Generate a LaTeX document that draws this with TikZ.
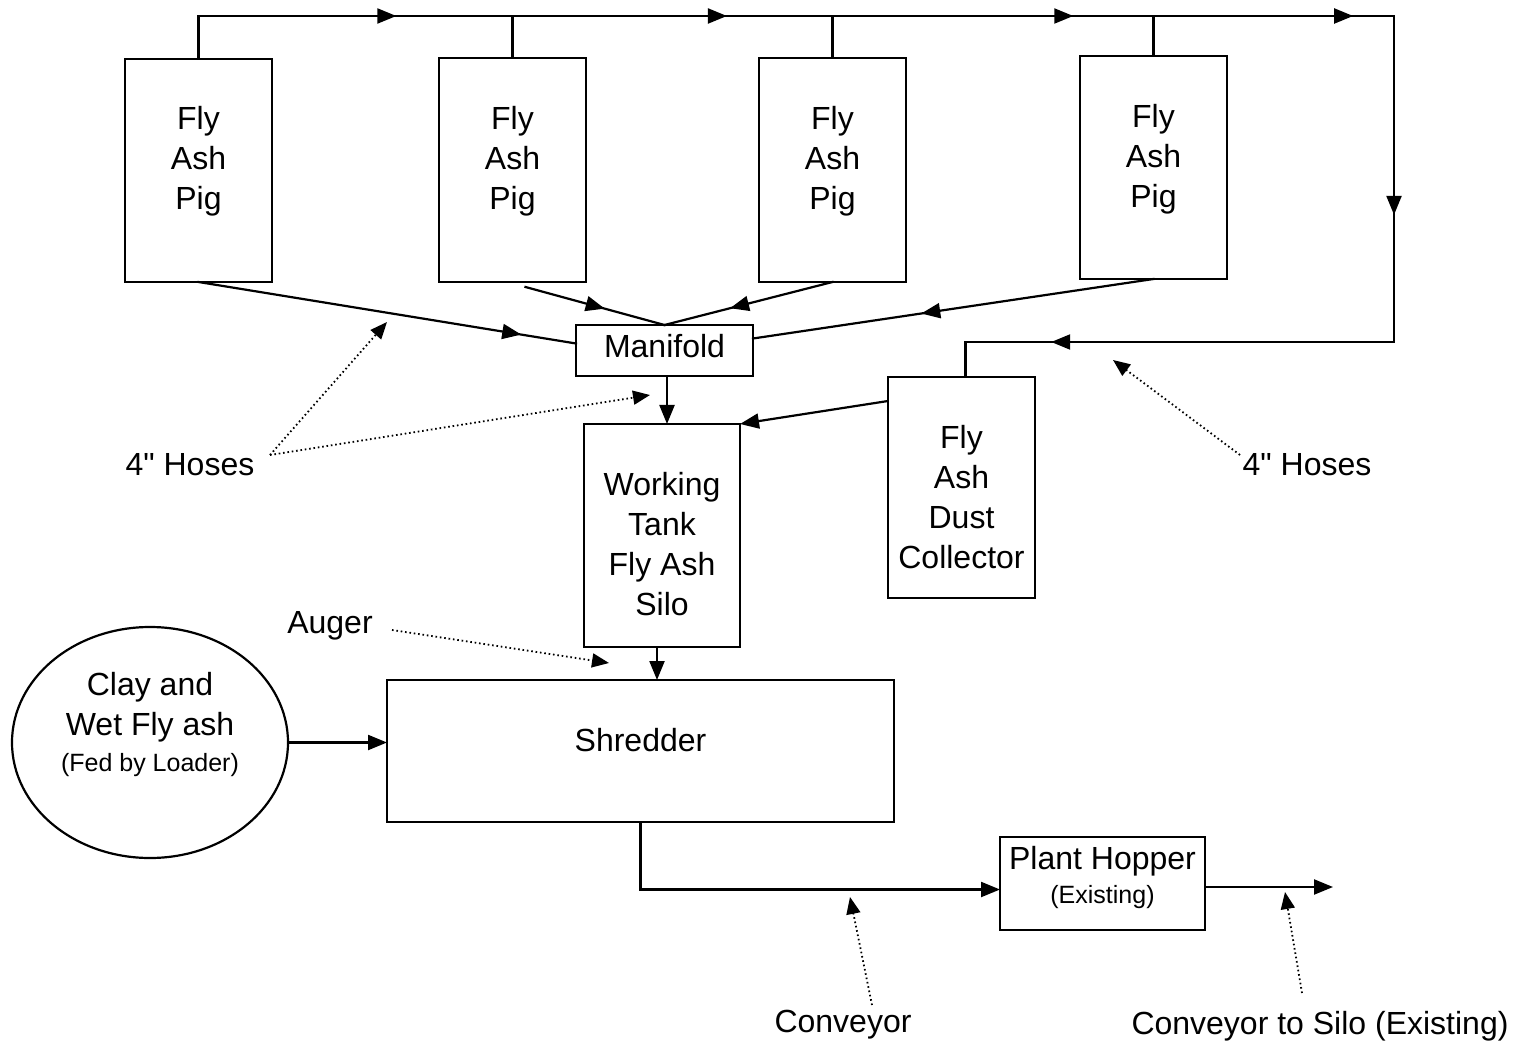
\documentclass[tikz,border=0pt]{standalone}
\usepackage{fontspec}
\setmainfont{Liberation Sans}
\newfontfamily\plainqfont{Liberation Sans}
\usetikzlibrary{shapes.geometric,arrows.meta,decorations.markings,calc}
\begin{document}
\begin{tikzpicture}[x=0.5pt,y=-0.5pt,
 lw/.style={line width=1.1pt},
 box/.style={draw,lw,inner sep=0pt,outer sep=0pt},
 txt/.style={font=\fontsize{16}{20}\selectfont,align=center,inner sep=0pt},
 conn/.style={lw,line cap=rect},
 arr/.style={lw,-{Triangle[length=9.5pt,width=7.5pt]}},
 midarrow/.style={lw,line cap=rect,postaction={decorate},decoration={markings,mark=at position #1 with {\arrow{Triangle[length=9.5pt,width=7.5pt]}}}},
 ann/.style={line width=0.9pt,dash pattern=on 0.8pt off 1.4pt,-{Triangle[length=8.5pt,width=7pt]}},
]
\fill[white] (0,0) rectangle (1513,1042);
\useasboundingbox (0,0) rectangle (1513,1042);

% boxes
\node[box,minimum width=73.5pt,minimum height=111.5pt,label={[txt,yshift=4.5pt]center:Fly\\Ash\\Pig}] (pig1) at (198.5,170.5) {};
\node[box,minimum width=73.5pt,minimum height=112pt,label={[txt,yshift=4.5pt]center:Fly\\Ash\\Pig}] (pig2) at (512.5,170) {};
\node[box,minimum width=73.5pt,minimum height=112pt,label={[txt,yshift=4.5pt]center:Fly\\Ash\\Pig}] (pig3) at (832.5,170) {};
\node[box,minimum width=73.5pt,minimum height=111.5pt,label={[txt,yshift=4pt]center:Fly\\Ash\\Pig}] (pig4) at (1153.5,167.5) {};
\node[box,minimum width=88.5pt,minimum height=25.5pt,label={[txt,yshift=2pt]center:Manifold}] (man) at (664.5,350.5) {};
\node[box,minimum width=78pt,minimum height=111.5pt,label={[txt,yshift=-4.25pt]center:Working\\Tank\\Fly Ash\\Silo}] (tank) at (662,535.5) {};
\node[box,minimum width=73.5pt,minimum height=110.5pt,label={[txt,yshift=-4.75pt]center:Fly\\Ash\\Dust\\Collector}] (dust) at (961.5,487.5) {};
\node[box,minimum width=253.5pt,minimum height=71pt,label={[txt,yshift=5.5pt]center:Shredder}] (shred) at (640.5,751) {};
\node[box,ellipse,minimum width=138pt,minimum height=115.5pt,label={[txt,yshift=9pt]center:Clay and\\Wet Fly ash\\[-2pt]{\fontsize{12.5}{15}\selectfont (Fed by Loader)}}] (clay) at (150,742.5) {};
\node[box,minimum width=102.5pt,minimum height=46.5pt,label={[txt,yshift=3pt]center:Plant Hopper\\[-3pt]{\fontsize{12.5}{15}\selectfont (Existing)}}] (hop) at (1102.5,883.5) {};

% top header line
\coordinate (top) at (0,16);
\coordinate (tr) at (1394,16);
\coordinate (br) at (1394,342);
\draw[conn] (pig1.north) -- (pig1.north|-top);
\draw[conn] (pig2.north) -- (pig2.north|-top);
\draw[conn] (pig3.north) -- (pig3.north|-top);
\draw[conn] (pig4.north) -- (pig4.north|-top);
\draw[midarrow=0.63] (pig1.north|-top) -- (pig2.north|-top);
\draw[midarrow=0.67] (pig2.north|-top) -- (pig3.north|-top);
\draw[midarrow=0.75] (pig3.north|-top) -- (pig4.north|-top);
\draw[midarrow=0.83] (pig4.north|-top) -- (tr);
\draw[midarrow=0.61] (tr) -- (br);
\draw[midarrow=0.80] (br) -- ([xshift=2pt]dust.north|-br);
\draw[conn] ([xshift=2pt]dust.north|-br) -- ([xshift=2pt]dust.north);

% hoses to manifold
\draw[midarrow=0.855] (pig1.south) -- ([yshift=3.5pt]man.west);
\draw[midarrow=0.57] ($(pig2.south)+(13,5)$) -- (man.north);
\draw[midarrow=0.61] (pig3.south) -- (man.north);
\draw[midarrow=0.58] (pig4.south) -- ([yshift=6pt]man.east);

% flows
\draw[arr] ([xshift=1.25pt]man.south) -- ([xshift=1.25pt]man.south|-tank.north);
\draw[arr] ([yshift=-12pt]dust.north west) -- (tank.north east);
\draw[arr] ([xshift=-2.5pt]tank.south) -- ([xshift=-2.5pt]tank.south|-shred.north);
\draw[arr] (clay.east) -- (clay.east-|shred.west);
\draw[arr] (shred.south) |- ([yshift=-3pt]hop.west);
\coordinate (out) at (1333,887);
\draw[arr] (hop.east|-out) -- (out);

% annotations
\node[txt] (hosesL) at (190,465) {4{\plainqfont"} Hoses};
\node[txt] (hosesR) at (1307,465) {4{\plainqfont"} Hoses};
\node[txt] (auger) at (330,626) {Auger};
\node[txt] (conv) at (843,1025) {Conveyor};
\node[txt] (convs) at (1320,1026) {Conveyor to Silo (Existing)};

\coordinate (hL) at (270,455);
\coordinate (hLa) at (387,322);
\coordinate (hLb) at (650,395);
\draw[ann] (hL) -- (hLa);
\draw[ann] (hL) -- (hLb);
\coordinate (hR) at (1240,455);
\coordinate (hRa) at (1113,360);
\draw[ann] (hR) -- (hRa);
\coordinate (au) at (392,630);
\coordinate (aua) at (609,663);
\draw[ann] (au) -- (aua);
\coordinate (cv) at (872,1005);
\coordinate (cva) at (850,897);
\draw[ann] (cv) -- (cva);
\coordinate (cs) at (1302,993);
\coordinate (csa) at (1285,892);
\draw[ann] (cs) -- (csa);
\end{tikzpicture}
\end{document}
